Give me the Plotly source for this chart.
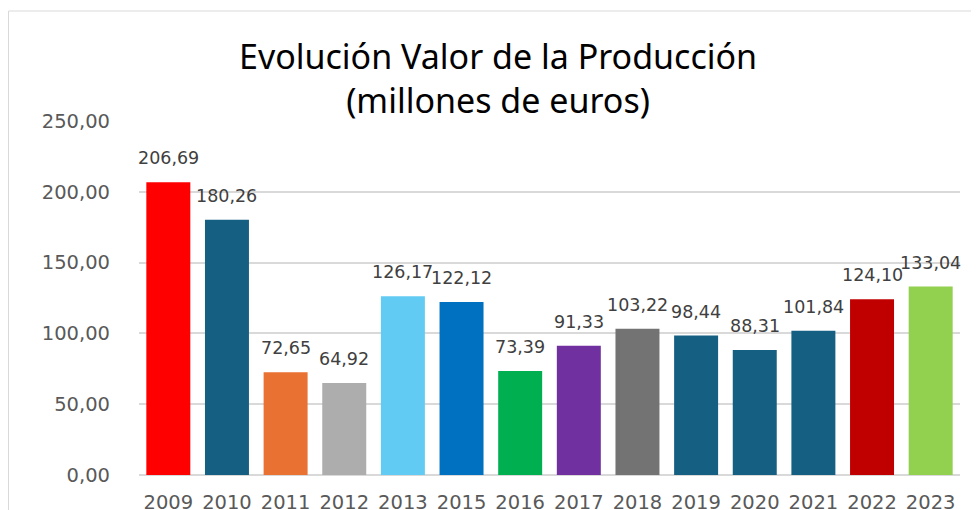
import plotly.graph_objects as go

years = ["2009", "2010", "2011", "2012", "2013", "2015", "2016", "2017",
         "2018", "2019", "2020", "2021", "2022", "2023"]
values = [206.69, 180.26, 72.65, 64.92, 126.17, 122.12, 73.39, 91.33,
          103.22, 98.44, 88.31, 101.84, 124.10, 133.04]
colors = ["#FF0000", "#156082", "#E97132", "#ADADAD", "#61CBF3", "#0070C0",
          "#00B050", "#7030A0", "#737373", "#156082", "#156082", "#156082",
          "#C00000", "#92D050"]
title_text = "Evolución Valor de la Producción<br>(millones de euros)"
y_ticks = [0, 50, 100, 150, 200, 250]

fig = go.Figure(go.Bar(
    x=years, y=values, marker=dict(color=colors, line=dict(width=0)),
    hovertemplate="%{x}: %{y:.2f}<extra></extra>",
))

# The page body has an 8px margin; lay out the figure relative to that.
OFF = 8
W, H = 979 - OFF, 510 - OFF
l, r, t, b = 139 - OFF, 19, 121 - OFF, 35
pw, ph = W - l - r, H - t - b

def fmt(v):
    return f"{v:.2f}".replace(".", ",")

# category axis: position i is the i-th category
label_annotations = [
    dict(x=i, y=v, xref="x", yref="y", text=fmt(v), showarrow=False,
         xanchor="center", yanchor="middle", yshift=24,
         font=dict(family="DejaVu Sans", size=17.5, color="#404040"))
    for i, v in enumerate(values)
]

fig.update_layout(
    width=W, height=H,
    margin=dict(l=l, r=r, t=t, b=b, autoexpand=False),
    paper_bgcolor="white", plot_bgcolor="white",
    separators=",.",
    bargap=0.25,
    showlegend=False,
    xaxis=dict(type="category", categoryorder="array", categoryarray=years,
               range=[-0.5, len(years) - 0.5],
               showgrid=False, showline=False, automargin=False,
               tickfont=dict(family="DejaVu Sans", size=19.5, color="#595959"),
               ticks="", ticklabelstandoff=13),
    yaxis=dict(range=[0, 250], tickvals=y_ticks, tickformat=".2f", automargin=False,
               showgrid=True, gridcolor="#D9D9D9", gridwidth=1.5,
               zeroline=True, zerolinecolor="#D9D9D9", zerolinewidth=1.5,
               tickfont=dict(family="DejaVu Sans", size=19.5, color="#595959"),
               ticklabelstandoff=28),
    annotations=[dict(text=title_text, xref="paper", yref="paper",
                      x=(498 - OFF - l) / pw, y=(H - b - (78 - OFF)) / ph,
                      xanchor="center", yanchor="middle", showarrow=False,
                      font=dict(family="Noto Sans", size=34, color="#000000"))]
                + label_annotations,
    shapes=[dict(type="rect", xref="paper", yref="paper",
                 x0=(0.5 - l) / pw, x1=1.2, y0=-0.3, y1=(H - b - 3) / ph,
                 line=dict(color="#D9D9D9", width=1), layer="below")],
)

fig.write_html("out.html")
